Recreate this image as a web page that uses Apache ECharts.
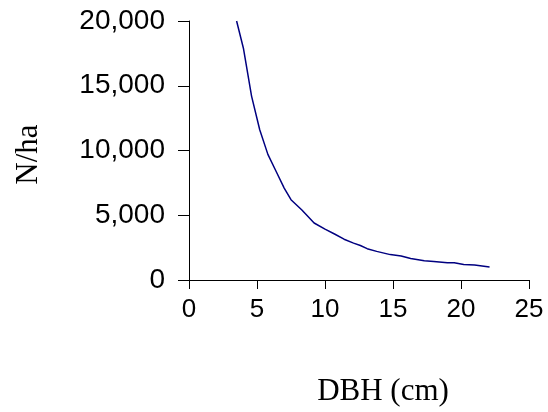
<!DOCTYPE html>
<html>
<head>
<meta charset="utf-8">
<script src="https://cdn.jsdelivr.net/npm/echarts@6/dist/echarts.min.js"></script>
<style>
  html, body { margin: 0; padding: 0; background: #fff; }
  #chart { width: 548px; height: 412px; }
</style>
</head>
<body>
<div id="chart"></div>
<script>
// DBH (cm) 与 N/ha 的读数
const dbh = [3.5, 4, 4.6, 5.2, 5.8, 6.4, 7, 7.5, 8.3, 9.2, 10, 10.7, 11.4, 12.1, 12.6,
  13.1, 13.8, 14.8, 15.6, 16.3, 17.3, 18, 19, 19.5, 20.2, 21, 22.1];
const nha = [20000, 17900, 14200, 11600, 9700, 8400, 7100, 6200, 5400, 4400, 3925, 3550,
  3150, 2850, 2660, 2420, 2210, 1960, 1860, 1660, 1490, 1430, 1340, 1330, 1190, 1150, 1000];
const xTicks = [0, 5, 10, 15, 20, 25];
const yTicks = [0, 5000, 10000, 15000, 20000];

const chart = echarts.init(document.getElementById("chart"), null, { renderer: "canvas" });

let points = [];
dbh.forEach((x, i) => {
  points.push([x, nha[i]]);
});

const axisLine = { show: true, lineStyle: { color: "#000", width: 1 } };

const option = {
  animation: false,
  backgroundColor: "#fff",
  grid: {
    left: 189,
    right: 19,
    top: 21,
    bottom: 126,
    containLabel: false,
  },
  xAxis: {
    type: "value",
    min: xTicks[0],
    max: xTicks[xTicks.length - 1],
    interval: xTicks[1] - xTicks[0],
    name: "DBH (cm)",
    nameLocation: "middle",
    nameGap: 96,
    nameTextStyle: {
      fontFamily: "Liberation Serif",
      fontSize: 31,
      color: "#000",
      padding: [0, 0, 0, 48],
    },
    axisLine: axisLine,
    axisTick: { show: true, inside: false, length: 9, lineStyle: { color: "#000" } },
    axisLabel: {
      margin: 17,
      fontFamily: "Liberation Sans",
      fontSize: 26,
      color: "#000",
    },
    splitLine: { show: false },
  },
  yAxis: {
    type: "value",
    min: yTicks[0],
    max: yTicks[yTicks.length - 1],
    interval: yTicks[1] - yTicks[0],
    name: "N/ha",
    nameLocation: "middle",
    nameRotate: 90,
    nameGap: 145,
    nameTextStyle: {
      fontFamily: "Liberation Serif",
      fontSize: 31,
      color: "#000",
      padding: [0, 8, 0, 0],
    },
    axisLine: axisLine,
    axisTick: { show: true, inside: false, length: 11, lineStyle: { color: "#000" } },
    axisLabel: {
      margin: 24,
      fontFamily: "Liberation Sans",
      fontSize: 28,
      color: "#000",
      formatter: (v) => v.toLocaleString("en-US"),
    },
    splitLine: { show: false },
  },
  series: [
    {
      name: "N/ha",
      type: "line",
      data: points,
      showSymbol: false,
      smooth: false,
      lineStyle: { color: "#000080", width: 1.5 },
      itemStyle: { color: "#000080" },
    },
  ],
};
chart.setOption(option);
</script>
</body>
</html>
